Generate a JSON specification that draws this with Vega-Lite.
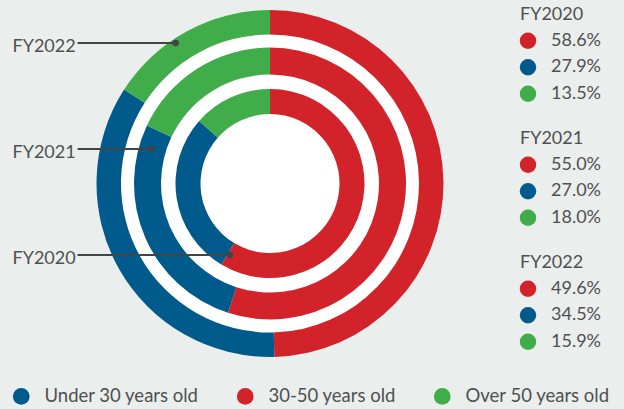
{
  "$schema": "https://vega.github.io/schema/vega-lite/v6.json",
  "background": "#eaeeed",
  "padding": {"left": 12, "top": 5.5, "right": 20, "bottom": 4},
  "datasets": {
    "shares": [
      {"year": "FY2020", "category": "30-50 years old", "share": 0.586},
      {"year": "FY2020", "category": "Under 30 years old", "share": 0.279},
      {"year": "FY2020", "category": "Over 50 years old", "share": 0.135},
      {"year": "FY2021", "category": "30-50 years old", "share": 0.55},
      {"year": "FY2021", "category": "Under 30 years old", "share": 0.27},
      {"year": "FY2021", "category": "Over 50 years old", "share": 0.18},
      {"year": "FY2022", "category": "30-50 years old", "share": 0.496},
      {"year": "FY2022", "category": "Under 30 years old", "share": 0.345},
      {"year": "FY2022", "category": "Over 50 years old", "share": 0.159}
    ],
    "leaders": [
      {"year": "FY2022", "tip": -0.542},
      {"year": "FY2021", "tip": -0.68},
      {"year": "FY2020", "tip": -0.23}
    ]
  },
  "config": {
    "font": "Lato",
    "view": {"stroke": null},
    "legend": {
      "orient": "none",
      "legendX": -84,
      "legendY": 359.5,
      "direction": "horizontal",
      "symbolType": "circle",
      "symbolSize": 280,
      "symbolStrokeWidth": 0,
      "symbolOpacity": 1,
      "labelFontSize": 18.5,
      "labelColor": "#505050",
      "labelFont": "Lato",
      "labelOffset": 14,
      "columnPadding": 37
    }
  },
  "hconcat": [
    {
      "width": 348,
      "height": 312,
      "data": {"name": "shares"},
      "transform": [
        {"calculate": "indexof(['30-50 years old','Under 30 years old','Over 50 years old'], datum.category)", "as": "rank"}
      ],
      "layer": [
        {
          "transform": [{"filter": "datum.year == 'FY2022' && datum.rank == 0"}],
          "mark": {"type": "arc", "theta": 0, "theta2": 6.2832, "outerRadius": 173.5, "innerRadius": 0, "fill": "white"},
          "encoding": {}
        },
        {
          "transform": [{"filter": "datum.year == 'FY2022'"}],
          "mark": {"type": "arc", "outerRadius": 173.5, "innerRadius": 149},
          "encoding": {
            "theta": {"field": "share", "type": "quantitative", "stack": true, "scale": {"domain": [0, 1]}},
            "color": {"field": "category", "type": "nominal", "title": null, "scale": {"domain": ["Under 30 years old", "30-50 years old", "Over 50 years old"], "range": ["#005A8C", "#D2232A", "#40AD4A"]}},
            "order": {"field": "rank", "type": "quantitative"}
          }
        },
        {
          "transform": [{"filter": "datum.year == 'FY2021'"}],
          "mark": {"type": "arc", "outerRadius": 136, "innerRadius": 109},
          "encoding": {
            "theta": {"field": "share", "type": "quantitative", "stack": true, "scale": {"domain": [0, 1]}},
            "color": {"field": "category", "type": "nominal", "title": null, "scale": {"domain": ["Under 30 years old", "30-50 years old", "Over 50 years old"], "range": ["#005A8C", "#D2232A", "#40AD4A"]}},
            "order": {"field": "rank", "type": "quantitative"}
          }
        },
        {
          "transform": [{"filter": "datum.year == 'FY2020'"}],
          "mark": {"type": "arc", "outerRadius": 94.5, "innerRadius": 69.5},
          "encoding": {
            "theta": {"field": "share", "type": "quantitative", "stack": true, "scale": {"domain": [0, 1]}},
            "color": {"field": "category", "type": "nominal", "title": null, "scale": {"domain": ["Under 30 years old", "30-50 years old", "Over 50 years old"], "range": ["#005A8C", "#D2232A", "#40AD4A"]}},
            "order": {"field": "rank", "type": "quantitative"}
          }
        },
        {
          "data": {"name": "leaders"},
          "transform": [],
          "mark": {"type": "rule", "color": "#444444", "strokeWidth": 1.8},
          "encoding": {
            "y": {"field": "year", "type": "ordinal", "scale": {"type": "point", "domain": ["FY2022", "FY2021", "FY2020"], "range": [15.5, 227.5], "padding": 0},
                  "axis": {"title": null, "domain": false, "ticks": false, "labelAlign": "left", "labelPadding": 84, "labelFontSize": 18, "labelColor": "#505050", "labelFont": "Lato", "labelOffset": 3}},
            "x": {"field": "tip", "type": "quantitative", "scale": {"domain": [-1, 1]}, "axis": null},
            "x2": {"datum": -1.106}
          }
        },
        {
          "data": {"name": "leaders"},
          "transform": [],
          "mark": {"type": "point", "filled": true, "size": 42, "color": "#444444", "opacity": 1},
          "encoding": {
            "y": {"field": "year", "type": "ordinal"},
            "x": {"field": "tip", "type": "quantitative"}
          }
        }
      ]
    },
    {
      "data": {"name": "shares"},
      "transform": [
        {"calculate": "indexof(['30-50 years old','Under 30 years old','Over 50 years old'], datum.category)", "as": "rank"}
      ],
      "facet": {"field": "year", "type": "ordinal", "title": null,
        "header": {"labelFontSize": 18, "labelColor": "#505050", "labelFont": "Lato", "labelAnchor": "start", "labelPadding": 4}},
      "columns": 1,
      "spacing": 22,
      "spec": {
        "width": 16,
        "height": 79.5,
        "layer": [
          {
            "mark": {"type": "point", "filled": true, "size": 270, "opacity": 1},
            "encoding": {
              "y": {"field": "category", "type": "nominal", "sort": ["30-50 years old", "Under 30 years old", "Over 50 years old"], "axis": null, "scale": {"type": "point", "padding": 0.5}},
              "color": {"field": "category", "type": "nominal", "title": null, "scale": {"domain": ["Under 30 years old", "30-50 years old", "Over 50 years old"], "range": ["#005A8C", "#D2232A", "#40AD4A"]}}
            }
          },
          {
            "mark": {"type": "text", "align": "left", "dx": 23, "fontSize": 18, "color": "#505050"},
            "encoding": {
              "y": {"field": "category", "type": "nominal", "sort": ["30-50 years old", "Under 30 years old", "Over 50 years old"], "axis": null},
              "text": {"field": "share", "type": "quantitative", "format": ".1%"}
            }
          }
        ]
      }
    }
  ],
  "spacing": 75
}
